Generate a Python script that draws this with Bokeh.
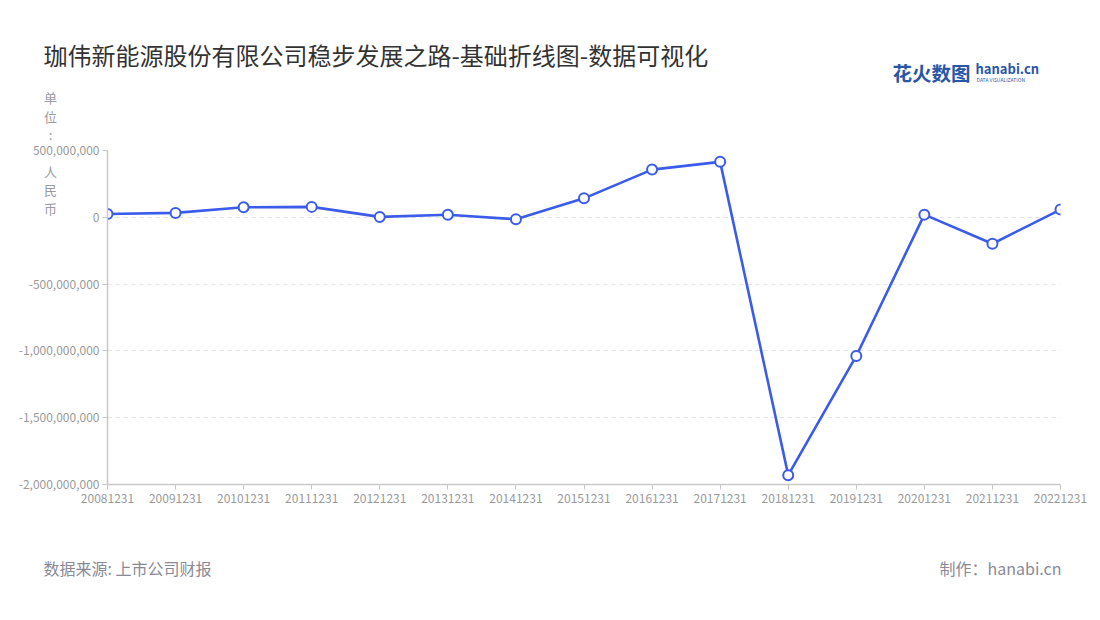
from bokeh.plotting import figure
from bokeh.models import Range1d, FixedTicker, NumeralTickFormatter, Label, ColumnDataSource
from bokeh.embed import file_html
from bokeh.resources import INLINE

dates = ["20081231", "20091231", "20101231", "20111231", "20121231", "20131231", "20141231",
         "20151231", "20161231", "20171231", "20181231", "20191231", "20201231", "20211231", "20221231"]
profit = [25e6, 33e6, 75e6, 78e6, 3e6, 19e6, -15e6, 142e6, 357e6, 415e6,
          -1930e6, -1038e6, 20e6, -198e6, 58e6]
y_ticks = [-2e9, -1.5e9, -1e9, -5e8, 0, 5e8]

FONT = "Noto Sans CJK SC"
LINE = "#3b5bea"

W, H = 1100, 620
FL, FR, FT, FB = 107, 1060, 150, 484  # frame edges in page pixels
X0, X1 = 0, len(dates) - 1
Y0, Y1 = -2e9, 5e8

p = figure(width=W, height=H, output_backend="svg", toolbar_location=None,
           x_range=Range1d(X0, X1), y_range=Range1d(Y0, Y1),
           min_border_left=FL, min_border_right=W - FR, min_border_top=FT, min_border_bottom=H - FB)
p.outline_line_color = None

xs = list(range(len(dates)))
src = ColumnDataSource(dict(x=xs, y=profit))
p.line("x", "y", source=src, line_color=LINE, line_width=2.6)
p.scatter("x", "y", source=src, size=10, fill_color="white", line_color=LINE, line_width=2)

p.xaxis.ticker = FixedTicker(ticks=xs)
p.xaxis.major_label_overrides = {i: d for i, d in enumerate(dates)}
p.yaxis.ticker = FixedTicker(ticks=y_ticks)
p.yaxis.formatter = NumeralTickFormatter(format="0,0")
for ax in (p.xaxis, p.yaxis):
    ax.axis_line_color = "#c8c8c8"
    ax.axis_line_width = 1.5
    ax.major_tick_line_color = "#c8c8c8"
    ax.major_tick_in = 0
    ax.major_tick_out = 5
    ax.minor_tick_line_color = None
    ax.major_label_text_color = "#9a9a9a"
    ax.major_label_text_font = FONT
    ax.major_label_text_font_size = "12px"
p.xaxis.major_label_standoff = 4
p.yaxis.major_label_standoff = 3
p.xgrid.grid_line_color = None
p.ygrid.grid_line_color = "#e3e3e3"
p.ygrid.grid_line_dash = "4 4"

# page pixel -> data coordinates (for placing text outside the frame)
def dx(X):
    return X0 + (X - FL) / (FR - FL) * (X1 - X0)
def dy(Y):
    return Y0 + (FB - Y) / (FB - FT) * (Y1 - Y0)

def lab(text, X, Y, size, color, align="left", style="normal", side="above", lh=1.2):
    p.add_layout(Label(x=dx(X), y=dy(Y), text=text,
                       text_font=FONT, text_font_size=size, text_color=color,
                       text_align=align, text_baseline="middle", text_font_style=style,
                       text_line_height=lh), side)

lab("珈伟新能源股份有限公司稳步发展之路-基础折线图-数据可视化", 43, 54, "24px", "#333333")
lab("单\n位\n:\n\n人\n民\n币", 50, 152.5, "13px", "#9a9aa4", align="center", side="left", lh=0.97)
lab("数据来源: 上市公司财报", 43, 567, "16px", "#8a8a96", side="below")
lab("制作：hanabi.cn", 1061, 567, "16px", "#8a8a96", align="right", side="below")
lab("花火数图", 892, 72, "19.5px", "#2a56a8", style="bold")
lab("hanabi.cn", 975, 68, "13px", "#2a56a8", style="bold")
lab("DATA VISUALIZATION", 976, 79, "5px", "#2a56a8")

open("out.html", "w").write(file_html(p, INLINE))
